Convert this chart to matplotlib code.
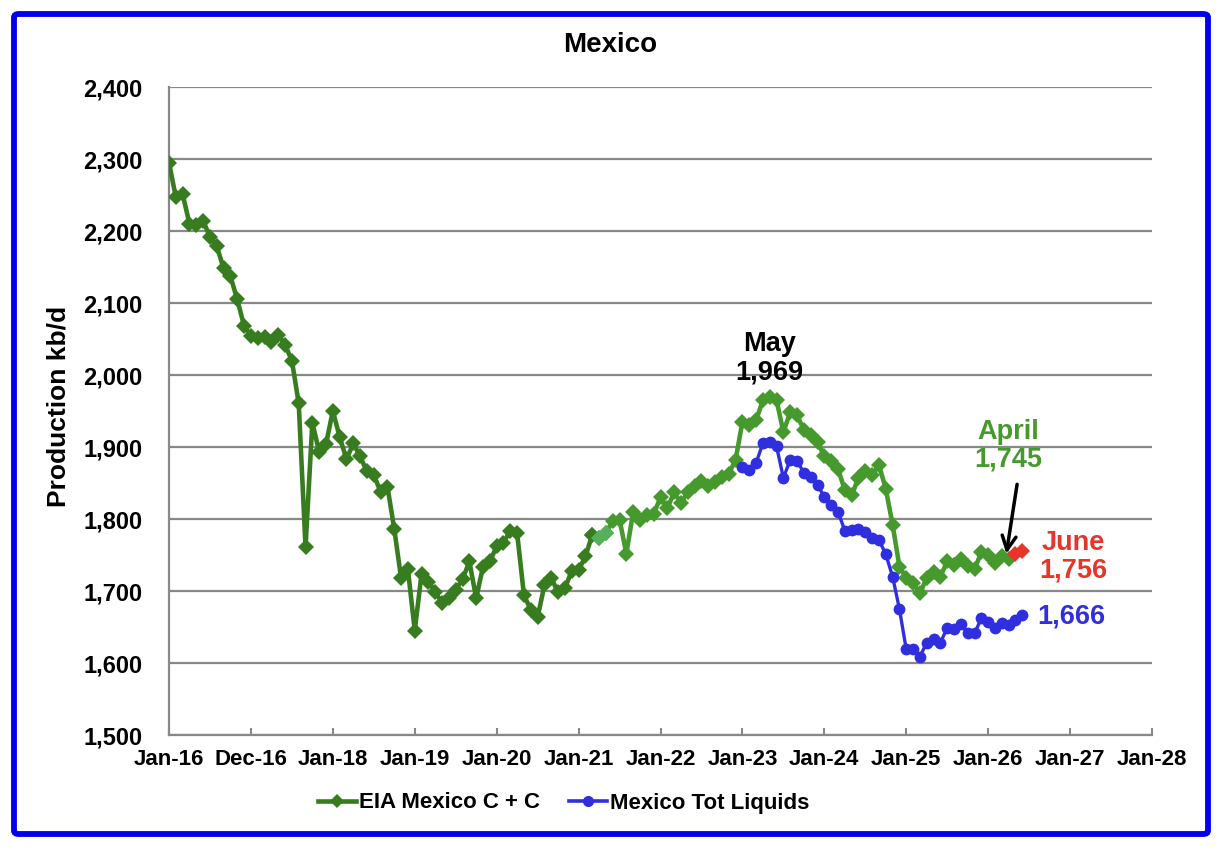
import matplotlib
matplotlib.use("Agg")
import matplotlib.pyplot as plt
from matplotlib.patches import FancyBboxPatch
from matplotlib.lines import Line2D
import numpy as np

plt.rcParams['font.family'] = ['Liberation Sans', 'DejaVu Sans']
plt.rcParams['font.weight'] = 'bold'

# ---- data (month index: 0 = Jan-16) ----
eia_cc = [2295, 2247, 2251, 2210, 2208, 2214, 2192, 2179, 2148, 2137, 2105, 2068,
          2054, 2052, 2053, 2046, 2056, 2042, 2020, 1961, 1761, 1934, 1893, 1904,
          1950, 1914, 1883, 1905, 1887, 1866, 1861, 1838, 1845, 1786, 1718, 1730,
          1645, 1724, 1713, 1699, 1683, 1690, 1702, 1716, 1741, 1690, 1734, 1741,
          1762, 1767, 1784, 1780, 1694, 1674, 1664, 1708, 1718, 1698, 1704, 1728,
          1729, 1748, 1778, 1774, 1781, 1797, 1799, 1752, 1810, 1799, 1806, 1807,
          1830, 1815, 1837, 1822, 1838, 1846, 1853, 1846, 1851, 1858, 1863, 1882,
          1935, 1931, 1937, 1965, 1969, 1965, 1921, 1948, 1944, 1924, 1917, 1907,
          1887, 1880, 1870, 1840, 1833, 1857, 1866, 1861, 1875, 1842, 1792, 1734,
          1718, 1711, 1697, 1718, 1727, 1720, 1741, 1736, 1745, 1735, 1730, 1754,
          1750, 1739, 1748, 1745]
eia_start = 0
dark_end = 62          # early segment drawn in darker green
light_idx = [63, 64]   # two lighter markers

proj_idx = [124, 125]
proj_vals = [1751, 1756]

tot_liq = [1872, 1868, 1878, 1905, 1907, 1901, 1857, 1882, 1881, 1864, 1858, 1847,
           1831, 1819, 1810, 1784, 1785, 1786, 1782, 1773, 1771, 1751, 1720, 1675,
           1619, 1619, 1609, 1628, 1633, 1628, 1649, 1647, 1654, 1641, 1641, 1662,
           1657, 1649, 1656, 1653, 1660, 1667]
tot_start = 84

xtick_pos = list(range(0, 145, 12))
xtick_labels = ["Jan-16", "Dec-16", "Jan-18", "Jan-19", "Jan-20", "Jan-21", "Jan-22",
                "Jan-23", "Jan-24", "Jan-25", "Jan-26", "Jan-27", "Jan-28"]
yticks = list(range(1500, 2401, 100))

DARK_G = '#377d1f'
MID_G = '#46992c'
LIGHT_G = '#55b05c'
BLUE = '#2f2fe0'
RED = '#e8352a'

fig = plt.figure(figsize=(12.26, 8.56), dpi=100)
ax = fig.add_axes([169/1226, 1-735/856, (1152-169)/1226, (735-87)/856])

x_cc = np.arange(eia_start, eia_start + len(eia_cc))
cc = np.array(eia_cc)
x_tl = np.arange(tot_start, tot_start + len(tot_liq))

GMS = 8.5
GLW = 3.3
# green series
ax.plot(x_cc[dark_end:], cc[dark_end:], color=MID_G, lw=GLW, marker='D', ms=GMS,
        markeredgewidth=0, zorder=3)
ax.plot(x_cc[:dark_end + 1], cc[:dark_end + 1], color=DARK_G, lw=GLW, marker='D', ms=GMS,
        markeredgewidth=0, zorder=4)
ax.plot(x_cc[light_idx], cc[light_idx], color=LIGHT_G, lw=GLW, marker='D', ms=GMS,
        markeredgewidth=0, zorder=5)
# red projection
ax.plot(proj_idx, proj_vals, color=RED, lw=4, marker='D', ms=GMS,
        markeredgewidth=0, zorder=5)
# blue series
ax.plot(x_tl, tot_liq, color=BLUE, lw=2.4, marker='o', ms=8.5, markeredgewidth=0,
        zorder=4)

ax.set_xlim(0, 144)
ax.set_ylim(1500, 2400)
ax.set_yticks(yticks)
ax.set_yticklabels([f"{v:,}" for v in yticks], fontsize=17, fontweight='bold')
ax.set_xticks(xtick_pos)
ax.set_xticklabels(xtick_labels, fontsize=16, fontweight='bold')
ax.tick_params(axis='y', length=0, pad=19)
ax.tick_params(axis='x', direction='in', length=5, width=1.5, color='#888888', pad=10)
ax.grid(axis='y', color='#888888', lw=1.6)
ax.set_axisbelow(True)
for s in ['top', 'right']:
    ax.spines[s].set_visible(False)
for s in ['left', 'bottom']:
    ax.spines[s].set_color('#888888')
    ax.spines[s].set_linewidth(1.6)

fig.text(610/1226, 1-45/856, "Mexico", ha='center', va='center', fontsize=20,
         fontweight='bold')
fig.text(58/1226, 1-406/856, "Production kb/d", ha='center', va='center',
         rotation=90, fontsize=19, fontweight='bold')

# annotations
ax.text(88, 1986, "May\n1,969", ha='center', va='bottom', fontsize=19.5,
        fontweight='bold', color='black', linespacing=1.1)
ax.text(122.9, 1864, "April\n1,745", ha='center', va='bottom', fontsize=19.5,
        fontweight='bold', color=MID_G, linespacing=1.1)
ax.text(132.5, 1785, "June\n1,756", ha='center', va='top', fontsize=19.5,
        fontweight='bold', color=RED, linespacing=1.1)
ax.text(127.2, 1665, "1,666", ha='left', va='center', fontsize=19.5,
        fontweight='bold', color=BLUE)
ax.annotate("", xy=(122.6, 1748), xytext=(124.3, 1852),
            arrowprops=dict(arrowstyle='->', color='black', lw=2.5,
                            mutation_scale=25))

# legend
h1 = Line2D([], [], color=DARK_G, lw=3.3, marker='D', ms=7, markeredgewidth=0)
h2 = Line2D([], [], color=BLUE, lw=2.6, marker='o', ms=8, markeredgewidth=0)
fig.legend([h1, h2], ["EIA Mexico C + C", "Mexico Tot Liquids"],
           loc='center', bbox_to_anchor=(564/1226, 1-803/856), ncol=2,
           frameon=False, prop={'size': 16, 'weight': 'bold'},
           handlelength=1.7, handletextpad=0.15, columnspacing=1.3)

# blue outer frame
frame = FancyBboxPatch((14/1226, 1-834/856), (1208-14)/1226, (834-14)/856,
                       boxstyle="round,pad=0,rounding_size=0.004",
                       transform=fig.transFigure, fill=False, edgecolor='#0000ee',
                       lw=4.2, zorder=10)
fig.patches.append(frame)

fig.savefig("out.png", dpi=100)
